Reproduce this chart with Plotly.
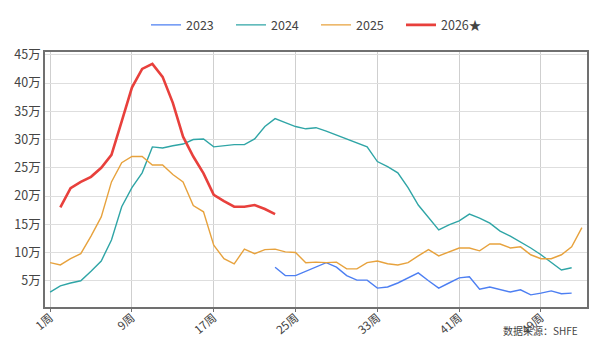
import plotly.graph_objects as go

y2023_weeks = list(range(23, 53))
y2023 = [7.4, 5.9, 5.9, 6.7, 7.4, 8.2, 7.4, 5.9, 5.1, 5.1, 3.7, 3.9, 4.6, 5.5, 6.4,
         5.0, 3.7, 4.6, 5.5, 5.7, 3.5, 3.9, 3.4, 3.0, 3.4, 2.5, 2.8, 3.2, 2.7, 2.8]

y2024_weeks = list(range(1, 53))
y2024 = [3.0, 4.1, 4.6, 5.0, 6.7, 8.5, 12.2, 18.1, 21.5, 24.1, 28.7, 28.5, 28.9, 29.2,
         30.0, 30.1, 28.7, 28.9, 29.1, 29.1, 30.1, 32.3, 33.7, 33.0, 32.3, 31.9, 32.1,
         31.5, 30.8, 30.1, 29.4, 28.7, 26.1, 25.2, 24.1, 21.5, 18.4, 16.3, 14.0, 14.9,
         15.6, 16.8, 16.1, 15.2, 13.8, 12.9, 11.9, 10.8, 9.6, 8.3, 6.9, 7.3]

y2025_weeks = list(range(1, 54))
y2025 = [8.2, 7.8, 8.9, 9.8, 12.9, 16.3, 22.5, 25.9, 27.0, 27.0, 25.5, 25.5, 23.8, 22.5,
         18.3, 17.2, 11.3, 8.9, 8.0, 10.6, 9.8, 10.5, 10.6, 10.1, 10.0, 8.2, 8.3, 8.2,
         8.3, 7.1, 7.1, 8.2, 8.5, 8.0, 7.8, 8.2, 9.4, 10.5, 9.4, 10.1, 10.8, 10.8, 10.3,
         11.5, 11.5, 10.8, 11.0, 9.6, 8.9, 8.9, 9.6, 11.0, 14.4]

y2026_weeks = list(range(2, 24))
y2026 = [18.0, 21.4, 22.5, 23.4, 25.0, 27.3, 33.2, 39.2, 42.5, 43.4, 41.1, 36.5, 30.5,
         27.0, 24.0, 20.2, 19.1, 18.1, 18.1, 18.4, 17.7, 16.8]

x_tick_vals = [1, 9, 17, 25, 33, 41, 49]
x_tick_text = [f"{w}周" for w in x_tick_vals]
y_tick_vals = [5, 10, 15, 20, 25, 30, 35, 40, 45]
y_tick_text = [f"{v}万" for v in y_tick_vals]

series = [
    ("2023", y2023_weeks, y2023, "#4d7ff2", 1.4),
    ("2024", y2024_weeks, y2024, "#2fa5a6", 1.4),
    ("2025", y2025_weeks, y2025, "#e7a23d", 1.4),
    ("2026★", y2026_weeks, y2026, "#e8403c", 2.6),
]

fig = go.Figure()
for name, xs, ys, color, w in series:
    fig.add_trace(go.Scatter(
        x=xs, y=[v * 10000 for v in ys], mode="lines", name=name,
        line=dict(color=color, width=w),
    ))

fig.update_layout(
    width=589, height=337,
    margin=dict(l=45, r=2, t=52, b=30, autoexpand=False),
    paper_bgcolor="white", plot_bgcolor="white",
    font=dict(family="Noto Sans CJK SC, Noto Sans, sans-serif", color="#444", size=12),
    showlegend=True,
    legend=dict(orientation="h", x=0.5, xanchor="center", yref="container",
                y=0.925, yanchor="middle", entrywidth=40, entrywidthmode="pixels",
                font=dict(size=12.5, color="#444"), itemwidth=30, bgcolor="rgba(0,0,0,0)"),
    xaxis=dict(
        range=[0.5, 53.5], tickmode="array", tickvals=x_tick_vals, ticktext=x_tick_text,
        tickangle=-40, showgrid=True, gridcolor="#cfcfcf", gridwidth=1,
        showline=True, linecolor="#707070", linewidth=1.5, mirror=True,
        ticks="outside", ticklen=3, tickcolor="#707070", zeroline=False,
        tickfont=dict(size=11.5, color="#444"), automargin=False,
        ticklabelstandoff=-5,
    ),
    yaxis=dict(
        range=[3500, 455000], tickmode="array",
        tickvals=[v * 10000 for v in y_tick_vals], ticktext=y_tick_text,
        showgrid=True, gridcolor="#dedede", gridwidth=1,
        showline=True, linecolor="#707070", linewidth=1.5, mirror=True,
        ticks="", zeroline=False, tickfont=dict(size=12.5, color="#444"),
        automargin=False,
    ),
)

fig.add_annotation(
    text="数据来源：SHFE", xref="paper", yref="paper", x=0.988, y=-0.055,
    xanchor="right", yanchor="top", showarrow=False,
    font=dict(size=10, color="#444"),
)

fig.write_html("out.html", post_script="document.body.style.margin='0';",
               config={"displayModeBar": False})
